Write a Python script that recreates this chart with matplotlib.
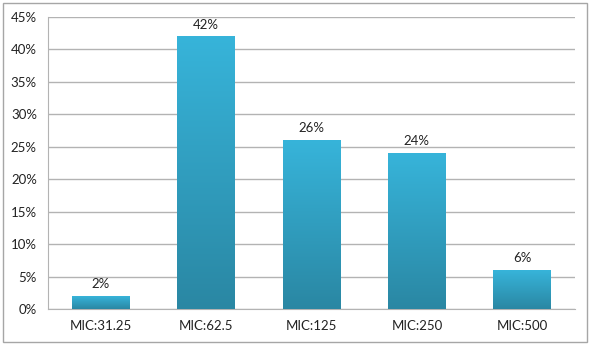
import matplotlib
matplotlib.use("Agg")
import matplotlib.pyplot as plt
import numpy as np
from matplotlib.colors import LinearSegmentedColormap
from matplotlib.patches import Rectangle

categories = ["MIC:31.25", "MIC:62.5", "MIC:125", "MIC:250", "MIC:500"]
values = [2, 42, 26, 24, 6]
yticks = [0, 5, 10, 15, 20, 25, 30, 35, 40, 45]

plt.rcParams['font.family'] = ['Lato', 'DejaVu Sans']

fig = plt.figure(figsize=(5.9, 3.45), dpi=100)
ax = fig.add_axes([48/590, 1 - 309/345, 527/590, (309-17)/345])

cmap = LinearSegmentedColormap.from_list("g", ["#2a87a3", "#37b4da"])
x = np.arange(len(categories))
bars = ax.bar(x, values, width=0.55, color="none", edgecolor="none", zorder=3)
grad = np.linspace(0, 1, 256).reshape(-1, 1)
for b in bars:
    bx, by = b.get_x(), b.get_y()
    w, h = b.get_width(), b.get_height()
    im = ax.imshow(grad, cmap=cmap, origin="lower", aspect="auto",
                   extent=[bx, bx + w, by, by + h], zorder=3)
    im.set_clip_path(b)

fs = 9.5
for xi, v in zip(x, values):
    ax.text(xi, v + 0.9, f"{v}%", ha="center", va="bottom", fontsize=fs, color="#222222", zorder=4)

ax.set_xlim(-0.5, len(categories) - 0.5)
ax.set_ylim(0, 45)
ax.set_yticks(yticks)
ax.set_yticklabels([f"{t}%" for t in yticks], fontsize=fs, color="#222222")
ax.set_xticks(x)
ax.set_xticklabels(categories, fontsize=fs, color="#222222")
ax.tick_params(axis="both", length=0, pad=8)
ax.tick_params(axis="x", pad=8)
ax.yaxis.grid(True, color="#b3b3b3", linewidth=1)
ax.set_axisbelow(True)
for s in ["top", "right"]:
    ax.spines[s].set_visible(False)
ax.spines["left"].set_color("#b3b3b3")
ax.spines["bottom"].set_color("#b3b3b3")

fig.patches.append(Rectangle((3/590, 3/345), 584/590, 339/345, transform=fig.transFigure,
                             fill=False, edgecolor="#a6a6a6", linewidth=1))

fig.savefig("out.png", dpi=100)
